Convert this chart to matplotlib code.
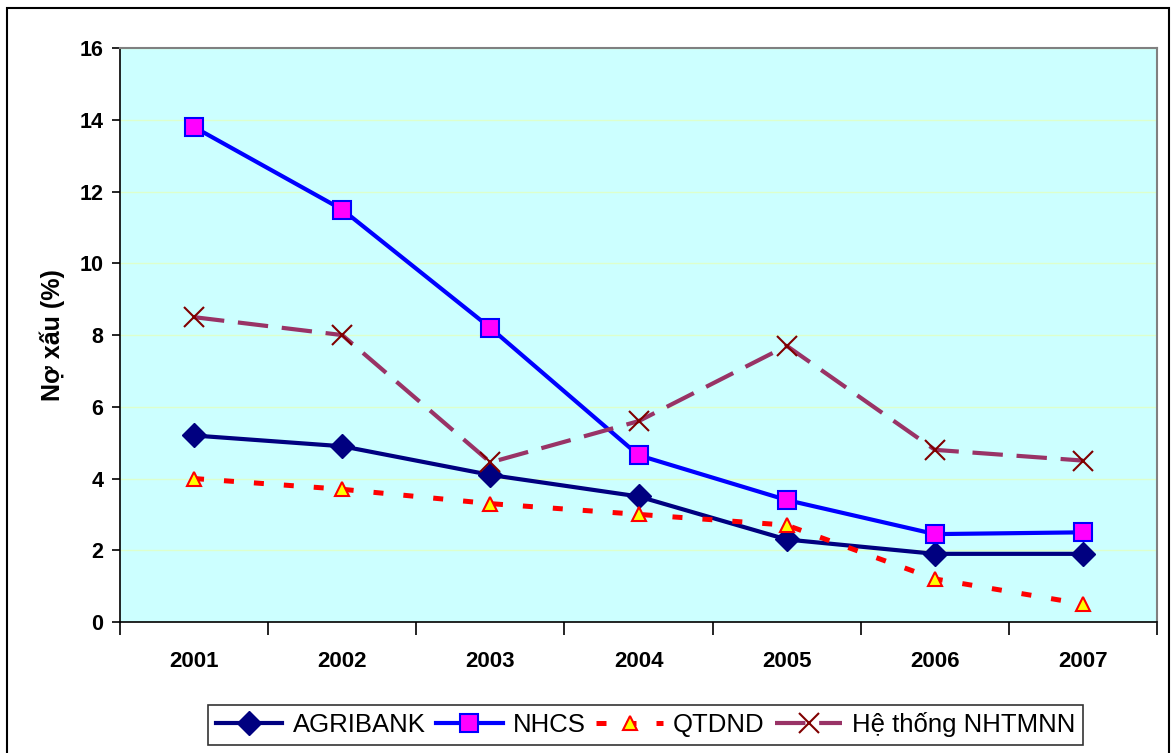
import matplotlib.pyplot as plt
import numpy as np
from matplotlib.patches import Rectangle

years = ['2001', '2002', '2003', '2004', '2005', '2006', '2007']
agribank = [5.2, 4.9, 4.1, 3.5, 2.3, 1.9, 1.9]
nhcs = [13.8, 11.5, 8.2, 4.65, 3.4, 2.45, 2.5]
qtdnd = [4.0, 3.7, 3.3, 3.0, 2.7, 1.2, 0.5]
nhtmnn = [8.5, 8.0, 4.45, 5.6, 7.7, 4.8, 4.5]

plt.rcParams['font.family'] = ['Liberation Sans', 'DejaVu Sans']

fig = plt.figure(figsize=(11.76, 7.53), dpi=100)
ax = fig.add_axes([0.102, 0.174, 0.882, 0.762])
ax.set_facecolor('#ccffff')

x = np.arange(len(years))
ax.plot(x, agribank, color='#000080', lw=3, marker='D', ms=12.5,
        mfc='#000080', mec='#000080', label='AGRIBANK', zorder=3)
ax.plot(x, nhcs, color='#0000ff', lw=3, marker='s', ms=13,
        mfc='#ff00ff', mec='#0000ff', mew=1.5, label='NHCS', zorder=3)
ax.plot(x, qtdnd, color='#ff0000', lw=3.6, ls=(0, (2.0, 4.0)), marker='^', ms=10,
        mfc='#ffff00', mec='#ff0000', mew=1.5, label='QTDND', zorder=3)
ax.plot(x, nhtmnn, color='#993366', lw=3, ls=(0, (7.3, 3.3)), marker='x', ms=15,
        mec='#800000', mew=1.5, label='Hệ thống NHTMNN', zorder=3)

ax.set_xlim(-0.5, 6.5)
ax.set_ylim(0, 16)
ax.set_yticks(range(0, 17, 2))
ax.yaxis.grid(True, color='#ddffcc', lw=1)
ax.set_axisbelow(True)

# category labels centred, ticks at category boundaries
ax.set_xticks(np.arange(-0.5, 7, 1))
ax.set_xticklabels([])
ax.set_xticks(x, minor=True)
ax.set_xticklabels(years, minor=True, fontsize=16, fontweight='bold')
ax.tick_params(axis='x', which='minor', length=0, pad=21)
ax.tick_params(axis='x', which='major', length=9, width=1.2, direction='out')
ax.tick_params(axis='y', length=6, width=1.2, direction='out', pad=6)
for lab in ax.get_yticklabels():
    lab.set_fontsize(15.5)
    lab.set_fontweight('bold')

ax.spines['left'].set_color('black')
ax.spines['bottom'].set_color('black')
ax.spines['left'].set_linewidth(1.2)
ax.spines['bottom'].set_linewidth(1.2)
ax.spines['top'].set_color('#808080')
ax.spines['right'].set_color('#808080')
ax.spines['top'].set_linewidth(1.5)
ax.spines['right'].set_linewidth(1.5)

ax.set_ylabel('Nợ xấu (%)', fontsize=18, fontweight='bold', labelpad=10)

leg = fig.legend(loc='center', bbox_to_anchor=(0.549, 0.0375), ncol=4,
                 frameon=True, fancybox=False, edgecolor='black',
                 handlelength=2.6, handletextpad=0.4, columnspacing=0.4,
                 borderpad=0.3, prop={'size': 18.5})
leg.get_frame().set_linewidth(1.2)

fig.patches.append(Rectangle((0.006, -0.01), 0.988, 1.0, transform=fig.transFigure,
                             fill=False, edgecolor='black', lw=1.5))

fig.savefig('out.png', dpi=100)
